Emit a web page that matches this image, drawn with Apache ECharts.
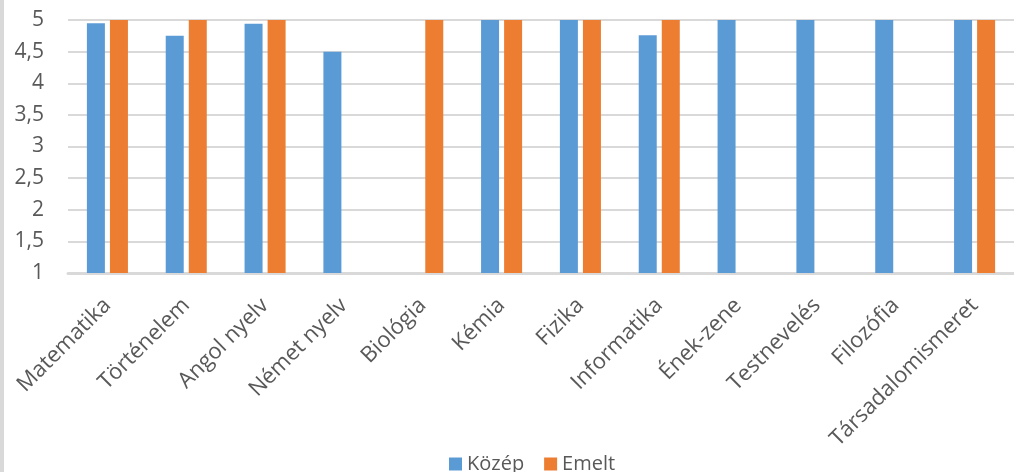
<!DOCTYPE html>
<html><head><meta charset="utf-8">
<script src="https://cdn.jsdelivr.net/npm/echarts@6/dist/echarts.min.js"></script>
<style>
html,body{margin:0;padding:0;background:#fff;}
#strip{position:absolute;left:0;top:0;width:4px;height:472px;background:#d9d9d9;}
#c{position:absolute;left:0;top:0;width:1014px;height:472px;}
</style></head><body>
<div id="c"></div><div id="strip"></div>
<script>
const categories = ['Matematika','Történelem','Angol nyelv','Német nyelv','Biológia','Kémia','Fizika','Informatika','Ének-zene','Testnevelés','Filozófia','Társadalomismeret'];
const kozep = [4.95, 4.75, 4.94, 4.5, 0, 5, 5, 4.76, 5, 5, 5, 5];
const emelt = [5, 5, 5, 0, 5, 5, 5, 5, 0, 0, 0, 5];
const seriesNames = ['Közép','Emelt'];
const yTicks = {min:1, max:5, interval:0.5};

const chart = echarts.init(document.getElementById('c'));
const font = '"Open Sans", "Liberation Sans", sans-serif';
chart.setOption({
  animation:false,
  textStyle:{fontFamily:font},
  grid:{left:68, top:20, width:951, height:253, containLabel:false},
  legend:{top:449, left:444, itemWidth:13, itemHeight:13, itemGap:20,
    icon:'rect', textStyle:{fontSize:20, color:'#595959', fontFamily:font}, data:seriesNames},
  xAxis:{type:'category', data:categories,
    axisLine:{lineStyle:{color:'#d9d9d9', width:3}},
    axisTick:{show:false},
    axisLabel:{rotate:45, fontSize:22, color:'#595959', interval:0, margin:29, fontFamily:font}},
  yAxis:{type:'value', min:yTicks.min, max:yTicks.max, interval:yTicks.interval,
    axisLine:{show:false}, axisTick:{show:false},
    splitLine:{lineStyle:{color:'#d9d9d9', width:2}},
    axisLabel:{fontSize:21, color:'#595959', margin:24, fontFamily:font,
      formatter:v=>String(v).replace('.',',')}},
  series:[
    {name:seriesNames[0], type:'bar', data:kozep, barWidth:18, barGap:'28%', itemStyle:{color:'#5b9bd5'}},
    {name:seriesNames[1], type:'bar', data:emelt, barWidth:18, itemStyle:{color:'#ed7d31'}}
  ]
});
</script></body></html>
